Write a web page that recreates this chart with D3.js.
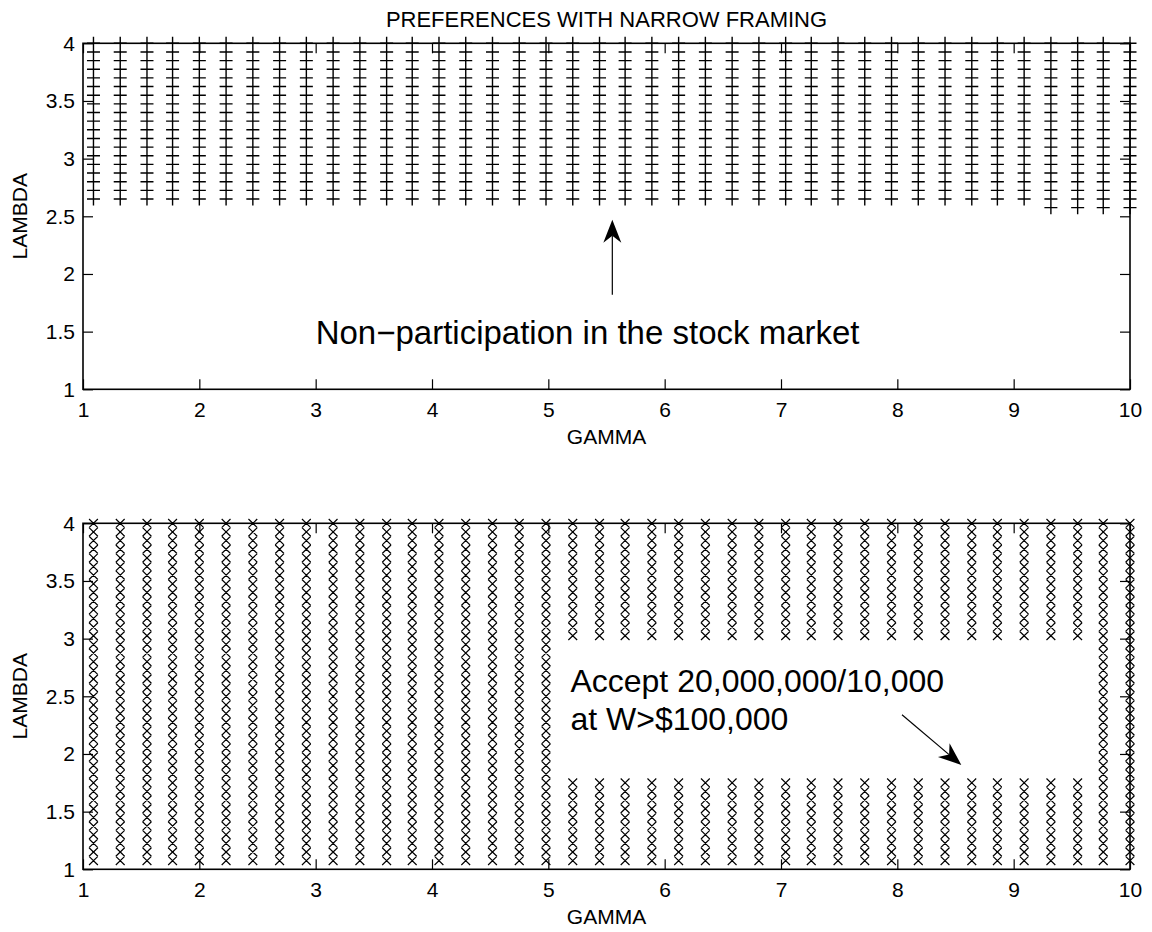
<!DOCTYPE html>
<html>
<head>
<meta charset="utf-8">
<script src="https://cdn.jsdelivr.net/npm/d3@7"></script>
<style>
	body { margin: 0; background: #fff; }
	svg text { font-family: "Liberation Sans", Arial, Helvetica, sans-serif; fill: #000; }
</style>
</head>
<body>
<script>
(function(){
	//gamma values of the 40 grid columns
	var gammaGrid = [1.09, 1.32, 1.55, 1.77, 2.00, 2.23, 2.46, 2.69, 2.92, 3.15,
		3.38, 3.61, 3.83, 4.06, 4.29, 4.52, 4.75, 4.98, 5.21, 5.44,
		5.66, 5.89, 6.12, 6.35, 6.58, 6.81, 7.04, 7.26, 7.49, 7.72,
		7.95, 8.18, 8.41, 8.64, 8.86, 9.09, 9.32, 9.55, 9.77, 10.00];

	//lambda values of the 40 grid rows
	var lambdaGrid = [1.075, 1.15, 1.225, 1.3, 1.375, 1.45, 1.525, 1.6, 1.675, 1.75,
		1.825, 1.9, 1.975, 2.05, 2.125, 2.2, 2.275, 2.35, 2.425, 2.5,
		2.575, 2.65, 2.725, 2.8, 2.875, 2.95, 3.025, 3.1, 3.175, 3.25,
		3.325, 3.4, 3.475, 3.55, 3.625, 3.7, 3.775, 3.85, 3.925, 4.0];

	//top panel: lowest lambda of the non-participation region, per column
	var topLowest = [2.65, 2.65, 2.65, 2.65, 2.65, 2.65, 2.65, 2.65, 2.65, 2.65,
		2.65, 2.65, 2.65, 2.65, 2.65, 2.65, 2.65, 2.65, 2.65, 2.65,
		2.65, 2.65, 2.65, 2.65, 2.65, 2.65, 2.65, 2.65, 2.65, 2.65,
		2.65, 2.65, 2.65, 2.65, 2.65, 2.65, 2.575, 2.575, 2.575, 2.575];

	//bottom panel: lambda range left empty in each column (null = full column)
	var gapLow = [null, null, null, null, null, null, null, null, null, null,
		null, null, null, null, null, null, null, null, 1.825, 1.825,
		1.825, 1.825, 1.825, 1.825, 1.825, 1.825, 1.825, 1.825, 1.825, 1.825,
		1.825, 1.825, 1.825, 1.825, 1.825, 1.825, 1.825, 1.825, null, null];
	var gapHigh = [null, null, null, null, null, null, null, null, null, null,
		null, null, null, null, null, null, null, null, 2.95, 2.95,
		2.95, 2.95, 2.95, 2.95, 2.95, 2.95, 2.95, 2.95, 2.95, 2.95,
		2.95, 2.95, 2.95, 2.95, 2.95, 2.95, 2.95, 2.95, null, null];

	var xTicks = [1, 2, 3, 4, 5, 6, 7, 8, 9, 10];
	var yTicks = [1, 1.5, 2, 2.5, 3, 3.5, 4];
	var yTickLabels = ["1", "1.5", "2", "2.5", "3", "3.5", "4"];

	var titleText = "PREFERENCES WITH NARROW FRAMING";
	var xLabel = "GAMMA", yLabel = "LAMBDA";
	var topNote = "Non\u2212participation in the stock market";
	var bottomNote = ["Accept 20,000,000/10,000", "at W>$100,000"];
	var topArrow = [[5.55, 1.82], [5.55, 2.47]];
	var bottomArrow = [[8.04, 2.34], [8.55, 1.905]];

	window.onload = setPage();

	function setPage(){
		var width = 1152, height = 932;

		var svg = d3.select("body")
			.append("svg")
			.attr("width", width)
			.attr("height", height);

		//top panel points
		var topPts = [];
		gammaGrid.forEach(function(g, i){
			lambdaGrid.forEach(function(l){
				if (l >= topLowest[i] - 1e-9) topPts.push([g, l]);
			});
		});

		//bottom panel points
		var botPts = [];
		gammaGrid.forEach(function(g, i){
			lambdaGrid.forEach(function(l){
				if (gapLow[i] !== null && l >= gapLow[i] - 1e-9 && l <= gapHigh[i] + 1e-9) return;
				botPts.push([g, l]);
			});
		});

		var top = makePanel(svg, 43.3, "plus", topPts);
		var bot = makePanel(svg, 523.3, "cross", botPts);

		svg.append("text")
			.attr("x", (top.x.range()[0] + top.x.range()[1]) / 2)
			.attr("y", 27)
			.attr("text-anchor", "middle")
			.style("font-size", "22px")
			.text(titleText);

		//top annotation
		top.g.append("text")
			.attr("x", top.x(3.0))
			.attr("y", top.y(1.396))
			.style("font-size", "33px")
			.text(topNote);
		drawArrow(top.g, top.x, top.y, topArrow);

		//bottom annotation
		bot.g.selectAll(".note")
			.data(bottomNote)
			.enter()
			.append("text")
			.attr("class", "note")
			.attr("x", bot.x(5.19))
			.attr("y", function(d, i){ return bot.y(2.537) + i * 38; })
			.style("font-size", "32px")
			.text(function(d){ return d; });
		drawArrow(bot.g, bot.x, bot.y, bottomArrow);
	};

	function makePanel(svg, yTop, marker, pts){
		var left = 83, right = 1130, h = 346;

		var x = d3.scaleLinear().domain([1, 10]).range([left, right]);
		var y = d3.scaleLinear().domain([1, 4]).range([yTop + h, yTop]);

		var g = svg.append("g");

		//markers
		var path = d3.path();
		pts.forEach(function(p){
			var px = x(p[0]), py = y(p[1]);
			if (marker == "plus"){
				path.moveTo(px - 6.5, py); path.lineTo(px + 6.5, py);
				path.moveTo(px, py - 6.5); path.lineTo(px, py + 6.5);
			} else {
				path.moveTo(px - 4.4, py - 4.3); path.lineTo(px + 4.4, py + 4.3);
				path.moveTo(px - 4.4, py + 4.3); path.lineTo(px + 4.4, py - 4.3);
			}
		});
		g.append("path")
			.attr("d", path.toString())
			.attr("fill", "none")
			.attr("stroke", "#000")
			.attr("stroke-width", marker == "plus" ? 1.4 : 1.2);

		//axes with inward ticks on all four sides
		var xb = g.append("g")
			.attr("transform", "translate(0," + (yTop + h) + ")")
			.call(d3.axisBottom(x).tickValues(xTicks).tickSizeInner(-10).tickSizeOuter(0).tickPadding(13).tickFormat(d3.format("d")));
		var xt = g.append("g")
			.attr("transform", "translate(0," + yTop + ")")
			.call(d3.axisTop(x).tickValues(xTicks).tickSizeInner(-10).tickSizeOuter(0).tickFormat(""));
		var yl = g.append("g")
			.attr("transform", "translate(" + left + ",0)")
			.call(d3.axisLeft(y).tickValues(yTicks).tickSizeInner(-10).tickSizeOuter(0).tickPadding(8)
				.tickFormat(function(d, i){ return yTickLabels[i]; }));
		var yr = g.append("g")
			.attr("transform", "translate(" + right + ",0)")
			.call(d3.axisRight(y).tickValues(yTicks).tickSizeInner(-10).tickSizeOuter(0).tickFormat(""));

		[xb, xt, yl, yr].forEach(function(a){
			a.select(".domain").remove();
			a.selectAll(".tick line").attr("stroke", "#000").attr("stroke-width", 1.2);
			a.selectAll("text")
				.style("font-size", "21px")
				.style("font-family", "'Liberation Sans', Arial, Helvetica, sans-serif")
				.attr("fill", "#000");
		});

		g.append("rect")
			.attr("x", left)
			.attr("y", yTop)
			.attr("width", right - left)
			.attr("height", h)
			.attr("fill", "none")
			.attr("stroke", "#000")
			.attr("stroke-width", 1.6);

		g.append("text")
			.attr("x", (left + right) / 2)
			.attr("y", yTop + h + 55)
			.attr("text-anchor", "middle")
			.style("font-size", "21px")
			.text(xLabel);

		g.append("text")
			.attr("transform", "translate(27," + (yTop + h / 2) + ") rotate(-90)")
			.attr("text-anchor", "middle")
			.style("font-size", "21px")
			.text(yLabel);

		return {g: g, x: x, y: y};
	};

	function drawArrow(g, x, y, pts){
		var x0 = x(pts[0][0]), y0 = y(pts[0][1]),
			x1 = x(pts[1][0]), y1 = y(pts[1][1]);
		var ang = Math.atan2(y1 - y0, x1 - x0);
		var len = 23, half = 9, notch = 16;

		function pt(d, s){
			//d along the shaft back from the tip, s sideways
			return [x1 - d * Math.cos(ang) - s * Math.sin(ang),
				y1 - d * Math.sin(ang) + s * Math.cos(ang)];
		};

		g.append("line")
			.attr("x1", x0).attr("y1", y0)
			.attr("x2", pt(notch, 0)[0]).attr("y2", pt(notch, 0)[1])
			.attr("stroke", "#000")
			.attr("stroke-width", 1.2);

		g.append("path")
			.attr("d", "M" + [x1, y1] + "L" + pt(len, half) + "L" + pt(notch, 0) + "L" + pt(len, -half) + "Z")
			.attr("fill", "#000");
	};
})();
</script>
</body>
</html>
